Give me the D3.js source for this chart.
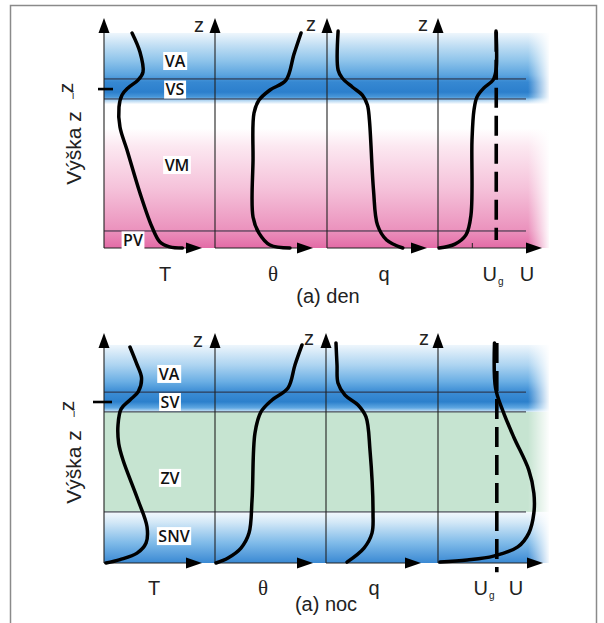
<!DOCTYPE html>
<html><head><meta charset="utf-8">
<script src="https://cdn.jsdelivr.net/npm/d3@7"></script>
<style>body{margin:0;background:#fff}</style>
</head><body>
<svg id="c" width="604" height="623"></svg>
<script>
// ---------------- DATA ----------------
const variables = ["T", "θ", "q", "U"];
const heightDomain = [0, 100];   // relative height z
const valueDomain = [0, 100];    // relative value along each horizontal axis

// day profiles: [value, height]
const dayT = [[28.6,93.5],[36.7,85.2],[39.8,76.5],[34.7,73.0],[24.5,69.6],[18.4,66.5],[15.3,61.3],[16.3,52.6],[23.5,42.6],[36.7,23.9],[49.0,9.1],[57.1,2.6],[67,0.5],[80,0]];
const dayTheta = [[87.8,93.5],[80.6,84.3],[72.4,73.0],[56.1,68.7],[44.9,64.3],[39.8,58.7],[38.8,38.3],[38.8,13.5],[44.9,6.5],[56.1,1.3],[76.5,0]];
const dayQ = [[11.1,94.3],[11.1,77.4],[15.2,73.9],[25.3,70.0],[35.4,66.5],[40.4,62.2],[42.4,55.7],[46.5,25.2],[50.5,10.0],[59.6,3.5],[75.8,0]];
const dayU = [[55.8,94.3],[55.8,77.4],[52.9,73.0],[44.2,69.6],[37.5,65.7],[34.6,60.0],[32.7,47.0],[31.7,14.3],[26.9,5.7],[16.3,1.7],[1.0,0]];
const dayLayers = ["VA", "VS", "VM", "PV"];
const dayBounds = [73.5, 64.8, 7.4];
const dayZi = 69.1;
const dayUg = 56;
const dayUgRange = [94, 3.5];
const dayUTick = 33;

// night profiles: [value, height]
const nightT = [[26.5,93.9],[33,87],[38.3,80.5],[35,74.5],[26.5,70.9],[17.5,67],[14.3,60],[15,52],[19.4,44.8],[34.7,27.4],[43.9,15.7],[42.9,8.7],[33.7,4.3],[16.3,1.5],[2,0]];
const nightTheta = [[88.8,94.8],[81.6,86.1],[74.5,76.1],[58.2,70.9],[46.9,65.7],[40.8,56.5],[37.8,27.4],[34.7,13.0],[26.5,6.5],[13.3,2.2],[1,0]];
const nightQ = [[10.5,95.7],[11.6,86],[12.6,78.3],[20.0,73.0],[33.7,68.7],[42.1,63.5],[46.3,49.1],[49.5,21.7],[48.4,13.0],[40.0,6.5],[22.1,0.4]];
const nightU = [[53.8,95.7],[54.8,76.1],[61.5,66.5],[72.1,54.8],[86.5,40.4],[91.3,30.4],[91.3,21.7],[86.5,13.0],[76.0,7.0],[52.9,3.0],[27.9,1.3],[1.9,0.4]];
const nightLayers = ["VA", "SV", "ZV", "SNV"];
const nightBounds = [74.3, 65.7, 22.2];
const nightZi = 70.0;
const nightUg = 56;
const nightUgRange = [95.7, -4];

// ---------------- LAYOUT ----------------
const svg = d3.select("#c");
const defs = svg.append("defs");
const FONT = "'Liberation Sans', Arial, sans-serif";

function vgrad(id, stops) {
  const g = defs.append("linearGradient").attr("id", id)
    .attr("x1", 0).attr("y1", 0).attr("x2", 0).attr("y2", 1);
  stops.forEach(([o, c]) => g.append("stop").attr("offset", o).attr("stop-color", c));
}
vgrad("dayBlue", [[0,"#eef6fc"],[0.17,"#c2dff4"],[0.38,"#90c5eb"],[0.59,"#5ba4df"],[0.69,"#3688d2"],[0.83,"#2c7fcc"],[0.9,"#4a98d9"],[0.94,"#a8d0f0"],[1,"#ffffff"]]);
vgrad("dayPink", [[0,"#ffffff"],[0.15,"#fce8f1"],[0.5,"#f5c2da"],[0.85,"#eb92bd"],[1,"#e36ba6"]]);
vgrad("nightBlueTop", [[0,"#eef6fc"],[0.3,"#add4f1"],[0.55,"#6aaee4"],[0.7,"#3d8dd4"],[0.85,"#2c80cc"],[0.94,"#5fa7e2"],[1,"#d2e8f8"]]);
vgrad("nightBlueBottom", [[0,"#f4f9fd"],[0.2,"#d3e8f7"],[0.6,"#80bbe9"],[1,"#3a89d3"]]);
const fade = defs.append("linearGradient").attr("id", "fadeR").attr("x1",0).attr("y1",0).attr("x2",1).attr("y2",0);
fade.append("stop").attr("offset",0).attr("stop-color","#fff").attr("stop-opacity",0);
fade.append("stop").attr("offset",1).attr("stop-color","#fff").attr("stop-opacity",1);

// frame
svg.append("rect").attr("x",10.5).attr("y",5.5).attr("width",586).attr("height",650)
  .attr("fill","none").attr("stroke","#8a8a8a").attr("stroke-width",1.5);

const panels = [
  {
    base: 248, top: 18,
    axisX: [104, 215, 327, 438], arrowX: [202, 313, 427, 542],
    profiles: [dayT, dayTheta, dayQ, dayU],
    layers: dayLayers, bounds: dayBounds, zi: dayZi, ziTickX: [98, 113], ziText: [69, 88],
    ug: dayUg, ugRange: dayUgRange, uTick: dayUTick,
    labelPos: [[175,81.3],[175,68.9],[177,36.1],[133,3.3]],
    bands: [
      {from: 93.5, to: 62.5, fill: "url(#dayBlue)"},
      {from: 52, to: 0, fill: "url(#dayPink)"}
    ],
    xLabelX: [165, 273, 384, 527], ugLabelX: 493, xLabelY: 280,
    zLabels: [[199,31],[311,29.5],[423,29.5]],
    yTitle: [73, 148],
    caption: "(a) den", captionPos: [328, 303]
  },
  {
    base: 563, top: 333,
    axisX: [104, 215, 326, 438], arrowX: [202, 313, 421, 543],
    profiles: [nightT, nightTheta, nightQ, nightU],
    layers: nightLayers, bounds: nightBounds, zi: nightZi, ziTickX: [93, 112], ziText: [70, 406],
    ug: nightUg, ugRange: nightUgRange, uTick: null,
    labelPos: [[169,82.2],[170,70.0],[170,37.0],[174,11.7]],
    bands: [
      {from: 94.8, to: 65.7, fill: "url(#nightBlueTop)"},
      {from: 65.7, to: 22.2, fill: "#c6e4d1"},
      {from: 22.2, to: 0, fill: "url(#nightBlueBottom)"}
    ],
    xLabelX: [154, 263, 374, 516], ugLabelX: 484, xLabelY: 594,
    zLabels: [[198,346],[309,343.5],[424,343.5]],
    yTitle: [73, 467],
    caption: "(a) noc", captionPos: [326, 611]
  }
];

panels.forEach(p => {
  const g = svg.append("g");
  const y = d3.scaleLinear().domain(heightDomain).range([p.base, p.top]);
  const xs = p.axisX.map((a, i) => d3.scaleLinear().domain(valueDomain).range([a, p.arrowX[i]]));
  const left = p.axisX[0], right = 549;

  // background bands
  p.bands.forEach(b => {
    g.append("rect").attr("x", left).attr("y", y(b.from))
      .attr("width", right - left).attr("height", y(b.to) - y(b.from))
      .attr("fill", b.fill);
  });
  // fade right edge
  g.append("rect").attr("x", 528).attr("y", y(100)).attr("width", right - 528 + 1)
    .attr("height", y(0) - y(100) + 2).attr("fill", "url(#fadeR)");

  // layer boundary lines
  g.selectAll("line.layer").data(p.bounds).join("line")
    .attr("x1", left).attr("x2", 526)
    .attr("y1", d => y(d)).attr("y2", d => y(d))
    .attr("stroke", "#2a2a3a").attr("stroke-width", 1);

  // axes
  p.axisX.forEach((ax, i) => {
    g.append("line").attr("x1", ax).attr("x2", ax).attr("y1", y(0)).attr("y2", y(100) + 10)
      .attr("stroke", "#222").attr("stroke-width", 1.1);
    g.append("path").attr("d", `M${ax},${y(100)} L${ax - 5.5},${y(100) + 15} L${ax + 5.5},${y(100) + 15} Z`)
      .attr("fill", "#000");
    const ex = p.arrowX[i];
    g.append("line").attr("x1", ax).attr("x2", ex - 8).attr("y1", y(0)).attr("y2", y(0))
      .attr("stroke", "#222").attr("stroke-width", 1.1);
    g.append("path").attr("d", `M${ex},${y(0)} L${ex - 16},${y(0) - 5.5} L${ex - 16},${y(0) + 5.5} Z`)
      .attr("fill", "#000");
  });

  // small tick on U axis
  if (p.uTick != null) {
    g.append("line").attr("x1", xs[3](p.uTick)).attr("x2", xs[3](p.uTick))
      .attr("y1", y(0)).attr("y2", y(0) - 5).attr("stroke", "#222").attr("stroke-width", 1);
  }

  // geostrophic wind dashed line
  g.append("line").attr("x1", xs[3](p.ug)).attr("x2", xs[3](p.ug))
    .attr("y1", y(p.ugRange[0])).attr("y2", y(p.ugRange[1]))
    .attr("stroke", "#000").attr("stroke-width", 3.6).attr("stroke-dasharray", "20,8");

  // profiles
  p.profiles.forEach((prof, i) => {
    const line = d3.line().x(d => xs[i](d[0])).y(d => y(d[1])).curve(d3.curveCatmullRom.alpha(0.5));
    g.append("path").attr("d", line(prof)).attr("fill", "none")
      .attr("stroke", "#000").attr("stroke-width", 3.5).attr("stroke-linecap", "round");
  });

  // layer labels with white boxes
  p.layers.forEach((name, i) => {
    const [lx, lz] = p.labelPos[i];
    const t = g.append("text").attr("x", lx).attr("y", y(lz) + 5.8).text(name)
      .attr("text-anchor", "middle")
      .attr("font-family", "'Open Sans', sans-serif").attr("font-weight", 600)
      .attr("font-size", 16).attr("fill", "#111");
    const bb = t.node().getBBox();
    g.insert("rect", () => t.node())
      .attr("x", bb.x - 1.5).attr("y", y(lz) - 9).attr("width", bb.width + 3).attr("height", 18)
      .attr("fill", "#fff");
  });

  // z_i tick and label
  g.append("line").attr("x1", p.ziTickX[0]).attr("x2", p.ziTickX[1])
    .attr("y1", y(p.zi)).attr("y2", y(p.zi)).attr("stroke", "#000").attr("stroke-width", 2.6);
  g.append("text").attr("transform", `translate(${p.ziText[0] + 4},${p.ziText[1]}) rotate(-90)`)
    .attr("text-anchor", "middle")
    .attr("font-family", FONT).attr("font-size", 21).attr("fill", "#222").text("z");
  g.append("text").attr("x", p.ziText[0] + 3).attr("y", p.ziText[1] + 11)
    .attr("font-family", FONT).attr("font-size", 10).attr("fill", "#222").text("i");

  // y title
  g.append("text").attr("transform", `translate(${p.yTitle[0]},${p.yTitle[1]}) rotate(-90)`)
    .attr("text-anchor", "middle").attr("dominant-baseline", "central")
    .attr("font-family", FONT).attr("font-size", 21).attr("fill", "#222").text("Výška z");

  // z labels at axes
  p.zLabels.forEach(([zx, zy]) => {
    g.append("text").attr("x", zx).attr("y", zy + 1).attr("text-anchor", "middle")
      .attr("font-family", FONT).attr("font-size", 20).attr("fill", "#222").text("z");
  });

  // variable labels
  variables.forEach((v, i) => {
    g.append("text").attr("x", p.xLabelX[i]).attr("y", p.xLabelY + 1).attr("text-anchor", "middle")
      .attr("font-family", v === "θ" ? "'Liberation Serif', serif" : FONT)
      .attr("font-size", v === "θ" ? 21 : 20).attr("fill", "#222").text(v);
  });
  const ugt = g.append("text").attr("x", p.ugLabelX).attr("y", p.xLabelY + 1).attr("text-anchor", "middle")
    .attr("font-family", FONT).attr("font-size", 20).attr("fill", "#222");
  ugt.append("tspan").text("U");
  ugt.append("tspan").attr("font-size", 10).attr("dx", 1).attr("dy", 4).text("g");

  // caption
  g.append("text").attr("x", p.captionPos[0]).attr("y", p.captionPos[1]).attr("text-anchor", "middle")
    .attr("font-family", FONT).attr("font-size", 20).attr("fill", "#222").text(p.caption);
});
</script>
</body></html>
